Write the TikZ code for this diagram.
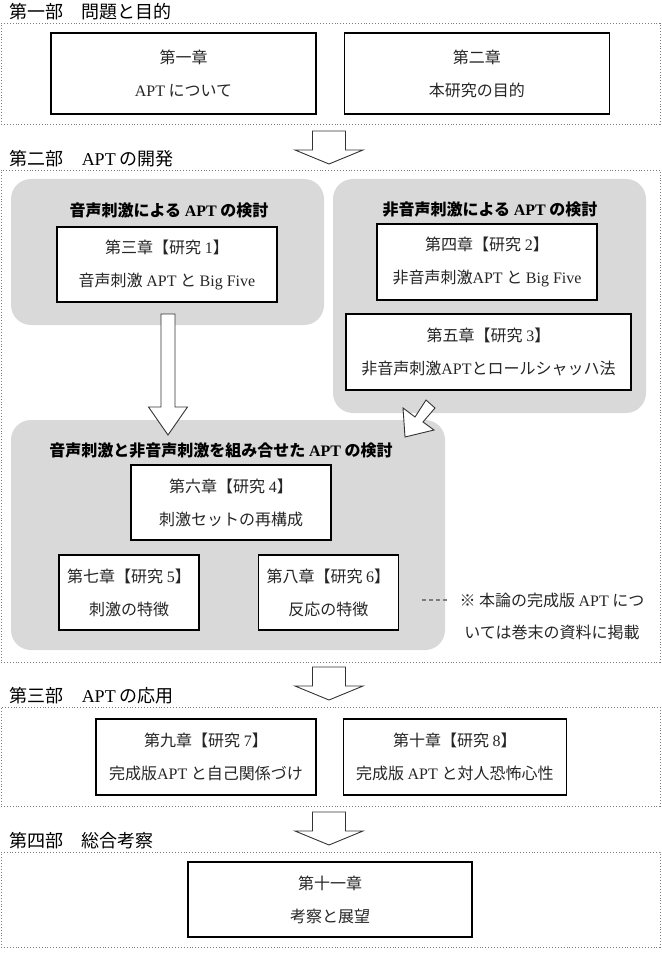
\documentclass[tikz,border=0pt]{standalone}
\usepackage{fontspec}
\setmainfont{Noto Sans CJK JP}
\newfontfamily\latfont{Liberation Serif}
\newcommand{\lat}[1]{{\latfont #1}}
\usepackage{tikz}
\usetikzlibrary{
    positioning
}
\usepackage{xcolor}
\definecolor{groupgray}{RGB}{217,217,217}
\definecolor{framegray}{RGB}{125,125,125}
\tikzstyle{partframe} = [
    rectangle,
    draw=framegray,
    dotted,
    line width=0.9pt,
    minimum width=659pt,
    inner sep=0pt
]
\tikzstyle{parttitle} = [
    inner sep=0pt,
    font=\fontsize{18}{21}\selectfont
]
\tikzstyle{group} = [
    rectangle,
    rounded corners=20pt,
    fill=groupgray,
    inner sep=0pt
]
\tikzstyle{grouptitle} = [
    inner sep=0pt,
    font=\bfseries\fontsize{16}{19}\selectfont
]
\tikzstyle{chapter} = [
    rectangle,
    draw=black,
    line width=1.3pt,
    fill=white,
    align=center,
    inner sep=0pt,
    text=black!85,
    font=\fontsize{16}{33}\selectfont
]
\tikzstyle{hollow} = [
    draw=black!80,
    fill=white,
    line width=0.9pt,
    line join=miter
]
\tikzset{
    partarrow/.pic={
        \draw[hollow] (-16.5,0) -- (-16.5,19) -- (-34,19) -- (0,33)
            -- (34,19) -- (16.5,19) -- (16.5,0) -- cycle;
    }
}

\begin{document}
\begin{tikzpicture}[x=1pt, y=-1pt]
    \useasboundingbox (0,0) rectangle (661,968);

    % Parts
    \node[partframe, minimum height=101pt] (part1) at (330.5,73.5) {};
    \node[partframe, minimum height=492pt] (part2) at (330.5,416) {};
    \node[partframe, minimum height=99pt] (part3) at (330.5,756.5) {};
    \node[partframe, minimum height=95pt] (part4) at (330.5,899.5) {};

    \node[parttitle, above right=2pt and 9pt of part1.north west] (title1) {第一部　問題と目的};
    \node[parttitle, above right=2pt and 9pt of part2.north west] (title2) {第二部　\lat{APT} の開発};
    \node[parttitle, above right=2pt and 9pt of part3.north west] (title3) {第三部　\lat{APT} の応用};
    \node[parttitle, above right=2pt and 9pt of part4.north west] (title4) {第四部　総合考察};

    % Groups
    \node[group, minimum width=313pt, minimum height=146pt] (voice) at (167.5,252) {};
    \node[group, minimum width=313pt, minimum height=234pt] (nonvoice) at (489.5,296) {};
    \node[group, minimum width=434pt, minimum height=230pt] (combined) at (228,535) {};

    \node[grouptitle] (voicetitle) at (169,210) {音声刺激による \lat{APT} の検討};
    \node[grouptitle] (nonvoicetitle) at (490,210) {非音声刺激による \lat{APT} の検討};
    \node[grouptitle] (combinedtitle) at (221,451) {音声刺激と非音声刺激を組み合せた \lat{APT} の検討};

    % Chapters
    \node[chapter, minimum width=265pt, minimum height=81pt] (ch1) at (183.5,73.5) {第一章\\\lat{APT} について};
    \node[chapter, minimum width=265pt, minimum height=81pt, right=27pt of ch1] (ch2) {第二章\\本研究の目的};

    \node[chapter, minimum width=220pt, minimum height=75pt] (ch3) at (167,264.5) {第三章【研究 \lat{1}】\\音声刺激 \lat{APT} と \lat{Big Five}};
    \node[chapter, minimum width=220pt, minimum height=76pt] (ch4) at (487,262) {第四章【研究 \lat{2}】\\非音声刺激\lat{APT} と \lat{Big Five}};
    \node[chapter, minimum width=285pt, minimum height=76pt] (ch5) at (488.5,352) {第五章【研究 \lat{3}】\\非音声刺激\lat{APT}とロールシャッハ法};

    \node[chapter, minimum width=200pt, minimum height=75pt] (ch6) at (231,502.5) {第六章【研究 \lat{4}】\\刺激セットの再構成};
    \node[chapter, minimum width=140pt, minimum height=75pt] (ch7) at (129,592.5) {第七章【研究 \lat{5}】\\刺激の特徴};
    \node[chapter, minimum width=140pt, minimum height=75pt, right=58pt of ch7] (ch8) {第八章【研究 \lat{6}】\\反応の特徴};

    \node[chapter, minimum width=220pt, minimum height=76pt] (ch9) at (206,757) {第九章【研究 \lat{7}】\\完成版\lat{APT} と自己関係づけ};
    \node[chapter, minimum width=223pt, minimum height=76pt, right=26pt of ch9] (ch10) {第十章【研究 \lat{8}】\\完成版 \lat{APT} と対人恐怖心性};

    \node[chapter, minimum width=284pt, minimum height=75pt] (ch11) at (330,899.5) {第十一章\\考察と展望};

    % Note
    \node[align=center, inner sep=0pt, text=black!85, font=\fontsize{16}{32}\selectfont] (note) at (552,616) {※ 本論の完成版 \lat{APT} につ\\いては巻末の資料に掲載};
    \coordinate (dashL) at (422,600);
    \coordinate (dashR) at (449,600);
    \draw[framegray, line width=1.2pt, dash pattern=on 4pt off 3pt] (dashL) -- (dashR);

    % Arrows
    \pic at (329,131) {partarrow};
    \pic at (329,667) {partarrow};
    \pic at (329,812) {partarrow};
    \draw[hollow] (161,314) -- (161,407) -- (148.5,407) -- (168,435)
        -- (187.5,407) -- (175,407) -- (175,314) -- cycle;
    \draw[hollow] (426,400) -- (435,408) -- (423,422) -- (434,430)
        -- (405,437) -- (403,408) -- (415,417) -- cycle;
\end{tikzpicture}
\end{document}
